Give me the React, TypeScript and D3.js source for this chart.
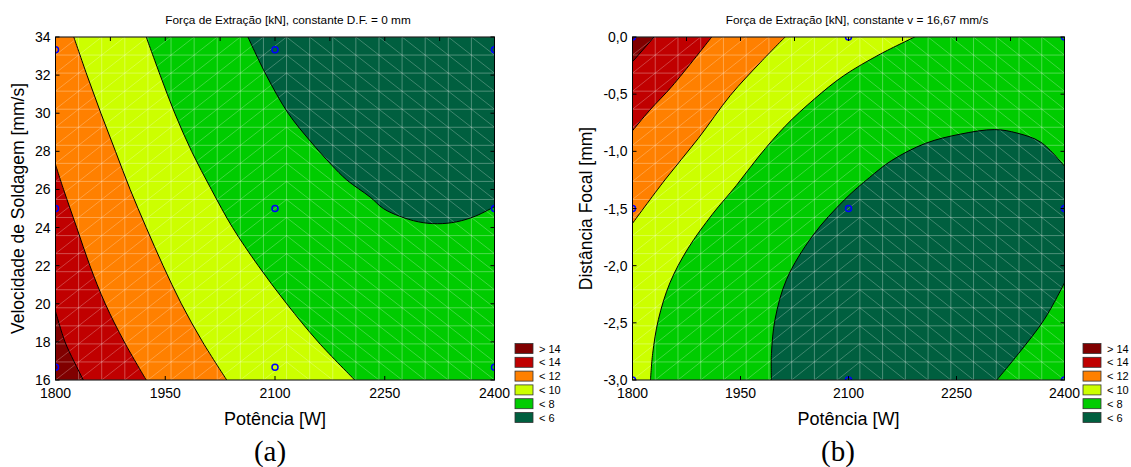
import React from 'react';
import * as d3 from 'd3';

// ---------- data ----------
const legendLabels = ['> 14', '< 14', '< 12', '< 10', '< 8', '< 6'];
const legendColors = ['#800000', '#c00000', '#ff8000', '#ccff00', '#00cc00', '#005f3f'];

const potenciaTicks = [1800, 1950, 2100, 2250, 2400];
const potenciaMinorTicks = [1875, 2025, 2175, 2325];
const velocidadeTicks = [16, 18, 20, 22, 24, 26, 28, 30, 32, 34];
const focalTicks = [0, -0.5, -1, -1.5, -2, -2.5, -3];

const designPotencia = [1800, 2100, 2400];
const designVelocidade = [16.67, 25, 33.33];
const designFocal = [0, -1.5, -3];

// contour boundaries, panel (a): [Potência, Velocidade]
const a_b14: [number, number][] = [[1800, 19.6], [1813, 18.0], [1825, 17.0], [1838, 16]];
const a_b12: [number, number][] = [[1800, 27.3], [1811, 26], [1829, 24], [1847, 22], [1868, 20], [1894, 18], [1924, 16]];
const a_b10: [number, number][] = [[1825, 34], [1843, 32], [1862, 30], [1882, 28], [1902, 26], [1924, 24], [1947, 22], [1972, 20], [2001, 18], [2034, 16]];
const a_b8: [number, number][] = [[1924, 34], [1943, 32], [1963, 30], [1986, 28], [2013, 26], [2042, 24], [2077, 22], [2116, 20], [2159, 18], [2209, 16]];
const a_b6: [number, number][] = [[2063, 34], [2088, 32], [2118, 30], [2149, 28.5], [2177, 27.3], [2198, 26.5], [2230, 25.6], [2248, 25], [2270, 24.6], [2296, 24.3], [2322, 24.2], [2348, 24.3], [2374, 24.6], [2400, 25.1]];

// panel (b): [Potência, Distância Focal]
const b_b14: [number, number][] = [[1830, 0], [1800, -0.216]];
const b_b12: [number, number][] = [[1910, 0], [1855, -0.43], [1824, -0.64], [1800, -0.82]];
const b_b10: [number, number][] = [[2012, 0], [1978, -0.22], [1936, -0.51], [1891, -0.89], [1845, -1.25], [1800, -1.63]];
const b_b8: [number, number][] = [[2192, 0], [2144, -0.15], [2093, -0.34], [2053, -0.54], [2012, -0.78], [1976, -1.04], [1944, -1.3], [1911, -1.55], [1877, -1.85], [1852, -2.15], [1836, -2.47], [1828, -2.77], [1825, -3]];
const b_b6: [number, number][] = [[1993, -3], [1993, -2.77], [1998, -2.47], [2014, -2.12], [2050, -1.74], [2095, -1.42], [2129, -1.23], [2160, -1.08], [2207, -0.93], [2255, -0.85], [2303, -0.81], [2334, -0.84], [2367, -0.92], [2400, -1.13]];
const b_b6low: [number, number][] = [[2400, -2.15], [2372, -2.47], [2336, -2.77], [2306, -3]];

const MESH_DIV = 19;
const MESH_SPLIT = 10;

const FONT = '"Liberation Sans", Arial, sans-serif';

type Pt = [number, number];
type Band = { color: number; parts: Pt[][]; corners: Pt[] };

interface PanelProps {
  id: string;
  left: number; right: number; top: number; bottom: number;
  xDomain: [number, number]; yDomain: [number, number];
  yTicks: number[]; yFormat: (v: number) => string;
  bands: Band[]; lines: Pt[][];
  baseColor: number;
  designY: number[];
  title: string; titleX: number;
  yTitle: string; yTitleX: number;
  legendX: number;
  letter: string; letterX: number;
}

function Panel(p: PanelProps) {
  const x = d3.scaleLinear().domain(p.xDomain).range([p.left, p.right]);
  const y = d3.scaleLinear().domain(p.yDomain).range([p.bottom, p.top]);
  const line = d3.line<Pt>().x(d => x(d[0])).y(d => y(d[1])).curve(d3.curveCatmullRom.alpha(0.5));

  const bandPath = (b: Band) => {
    let s = '';
    b.parts.forEach((part, i) => {
      const ps = line(part) || '';
      s += i === 0 ? ps : 'L' + ps.slice(1);
    });
    b.corners.forEach(c => { s += `L${x(c[0])},${y(c[1])}`; });
    return s + 'Z';
  };

  const xs = d3.range(MESH_DIV + 1).map(i => p.xDomain[0] + (i * (p.xDomain[1] - p.xDomain[0])) / MESH_DIV);
  const ys = d3.range(MESH_DIV + 1).map(i => p.yDomain[0] + (i * (p.yDomain[1] - p.yDomain[0])) / MESH_DIV);
  const diag: string[] = [];
  for (let c = 0; c < MESH_DIV; c++) {
    for (let r = 0; r < MESH_DIV; r++) {
      if (c < MESH_SPLIT) diag.push(`M${x(xs[c])},${y(ys[r])}L${x(xs[c + 1])},${y(ys[r + 1])}`);
      else diag.push(`M${x(xs[c])},${y(ys[r + 1])}L${x(xs[c + 1])},${y(ys[r])}`);
    }
  }
  const meshPath = xs.map(v => `M${x(v)},${p.top}V${p.bottom}`).join('') +
    ys.map(v => `M${p.left},${y(v)}H${p.right}`).join('');

  const cx = (p.left + p.right) / 2;
  const cy = (p.top + p.bottom) / 2;
  const tl = 4;

  return (
    <g>
      <defs>
        <clipPath id={`clip-${p.id}`}>
          <rect x={p.left} y={p.top} width={p.right - p.left} height={p.bottom - p.top} />
        </clipPath>
      </defs>
      <text x={p.titleX} y={24} fontSize={11.8} textAnchor="middle" fontFamily={FONT}>{p.title}</text>
      <g clipPath={`url(#clip-${p.id})`}>
        <rect x={p.left} y={p.top} width={p.right - p.left} height={p.bottom - p.top} fill={legendColors[p.baseColor]} />
        {p.bands.map((b, i) => (
          <path key={i} d={bandPath(b)} fill={legendColors[b.color]} />
        ))}
        <path d={meshPath} stroke="#ffffff" strokeOpacity={0.3} strokeWidth={1} fill="none" />
        <path d={diag.join('')} stroke="#ffffff" strokeOpacity={0.28} strokeWidth={0.9} fill="none" />
        {p.lines.map((l, i) => (
          <path key={i} d={line(l) || ''} stroke="#000" strokeWidth={1} fill="none" />
        ))}
        {designPotencia.map(px => p.designY.map(py => (
          <circle key={`${px}-${py}`} cx={x(px)} cy={y(py)} r={3} fill="none" stroke="#0000ff" strokeWidth={1.5} />
        )))}
      </g>
      <rect x={p.left} y={p.top} width={p.right - p.left} height={p.bottom - p.top} fill="none" stroke="#000" strokeWidth={1} />
      {potenciaTicks.map(t => (
        <g key={`xt${t}`}>
          <line x1={x(t)} x2={x(t)} y1={p.bottom} y2={p.bottom - tl} stroke="#000" />
          <line x1={x(t)} x2={x(t)} y1={p.top} y2={p.top + tl} stroke="#000" />
          <text x={x(t)} y={p.bottom + 18} fontSize={14} textAnchor="middle" fontFamily={FONT}>{t}</text>
        </g>
      ))}
      {potenciaMinorTicks.map(t => (
        <line key={`xm${t}`} x1={x(t)} x2={x(t)} y1={p.top} y2={p.top + tl} stroke="#000" />
      ))}
      {p.yTicks.map(t => (
        <g key={`yt${t}`}>
          <line x1={p.left} x2={p.left + tl} y1={y(t)} y2={y(t)} stroke="#000" />
          <line x1={p.right} x2={p.right - tl} y1={y(t)} y2={y(t)} stroke="#000" />
          <text x={p.left - 5} y={y(t) + 5} fontSize={14} textAnchor="end" fontFamily={FONT}>{p.yFormat(t)}</text>
        </g>
      ))}
      <text x={cx} y={425} fontSize={18} textAnchor="middle" fontFamily={FONT}>Potência [W]</text>
      <text transform={`translate(${p.yTitleX},${cy}) rotate(-90)`} fontSize={17.5} textAnchor="middle" fontFamily={FONT}>{p.yTitle}</text>
      <text x={p.letterX} y={461} fontSize={29} textAnchor="middle" fontFamily='"Liberation Serif", "Times New Roman", serif'>{p.letter}</text>
      {legendLabels.map((lab, i) => (
        <g key={lab}>
          <rect x={p.legendX} y={343.5 + i * 13.8} width={18} height={10} fill={legendColors[i]} stroke="#333" strokeWidth={0.8} />
          <text x={p.legendX + 24} y={352.5 + i * 13.8} fontSize={11} fontFamily={FONT}>{lab}</text>
        </g>
      ))}
    </g>
  );
}

export default function App() {
  const fmtComma = (v: number) => d3.format('.1f')(v).replace('.', ',').replace('−', '-');
  const A = { P0: 1800, P1: 2400, V0: 16, V1: 34 };
  const B = { D0: -3, D1: 0 };
  return (
    <svg width={1131} height={467} style={{ position: 'absolute', left: 0, top: 0, background: '#fff' }}>
      <Panel
        id="a"
        left={55.5} right={494.5} top={37} bottom={380}
        xDomain={[A.P0, A.P1]} yDomain={[A.V0, A.V1]}
        yTicks={velocidadeTicks} yFormat={v => String(v)}
        baseColor={4}
        bands={[
          { color: 5, parts: [a_b6], corners: [[A.P1, A.V1]] },
          { color: 3, parts: [a_b8], corners: [[A.P0, A.V0], [A.P0, A.V1]] },
          { color: 2, parts: [a_b10], corners: [[A.P0, A.V0], [A.P0, A.V1]] },
          { color: 1, parts: [a_b12], corners: [[A.P0, A.V0]] },
          { color: 0, parts: [a_b14], corners: [[A.P0, A.V0]] },
        ]}
        lines={[a_b6, a_b8, a_b10, a_b12, a_b14]}
        designY={designVelocidade}
        title="Força de Extração [kN], constante D.F. = 0 mm" titleX={288}
        yTitle="Velocidade de Soldagem [mm/s]" yTitleX={24}
        legendX={515}
        letter="(a)" letterX={270}
      />
      <Panel
        id="b"
        left={632.5} right={1064.5} top={37} bottom={380}
        xDomain={[A.P0, A.P1]} yDomain={[B.D0, B.D1]}
        yTicks={focalTicks} yFormat={fmtComma}
        baseColor={4}
        bands={[
          { color: 5, parts: [b_b6, b_b6low], corners: [] },
          { color: 3, parts: [b_b8], corners: [[A.P0, B.D0], [A.P0, B.D1]] },
          { color: 2, parts: [b_b10], corners: [[A.P0, B.D1]] },
          { color: 1, parts: [b_b12], corners: [[A.P0, B.D1]] },
          { color: 0, parts: [b_b14], corners: [[A.P0, B.D1]] },
        ]}
        lines={[b_b6, b_b6low, b_b8, b_b10, b_b12, b_b14]}
        designY={designFocal}
        title="Força de Extração [kN], constante v = 16,67 mm/s" titleX={857}
        yTitle="Distância Focal [mm]" yTitleX={592}
        legendX={1083}
        letter="(b)" letterX={838}
      />
    </svg>
  );
}
